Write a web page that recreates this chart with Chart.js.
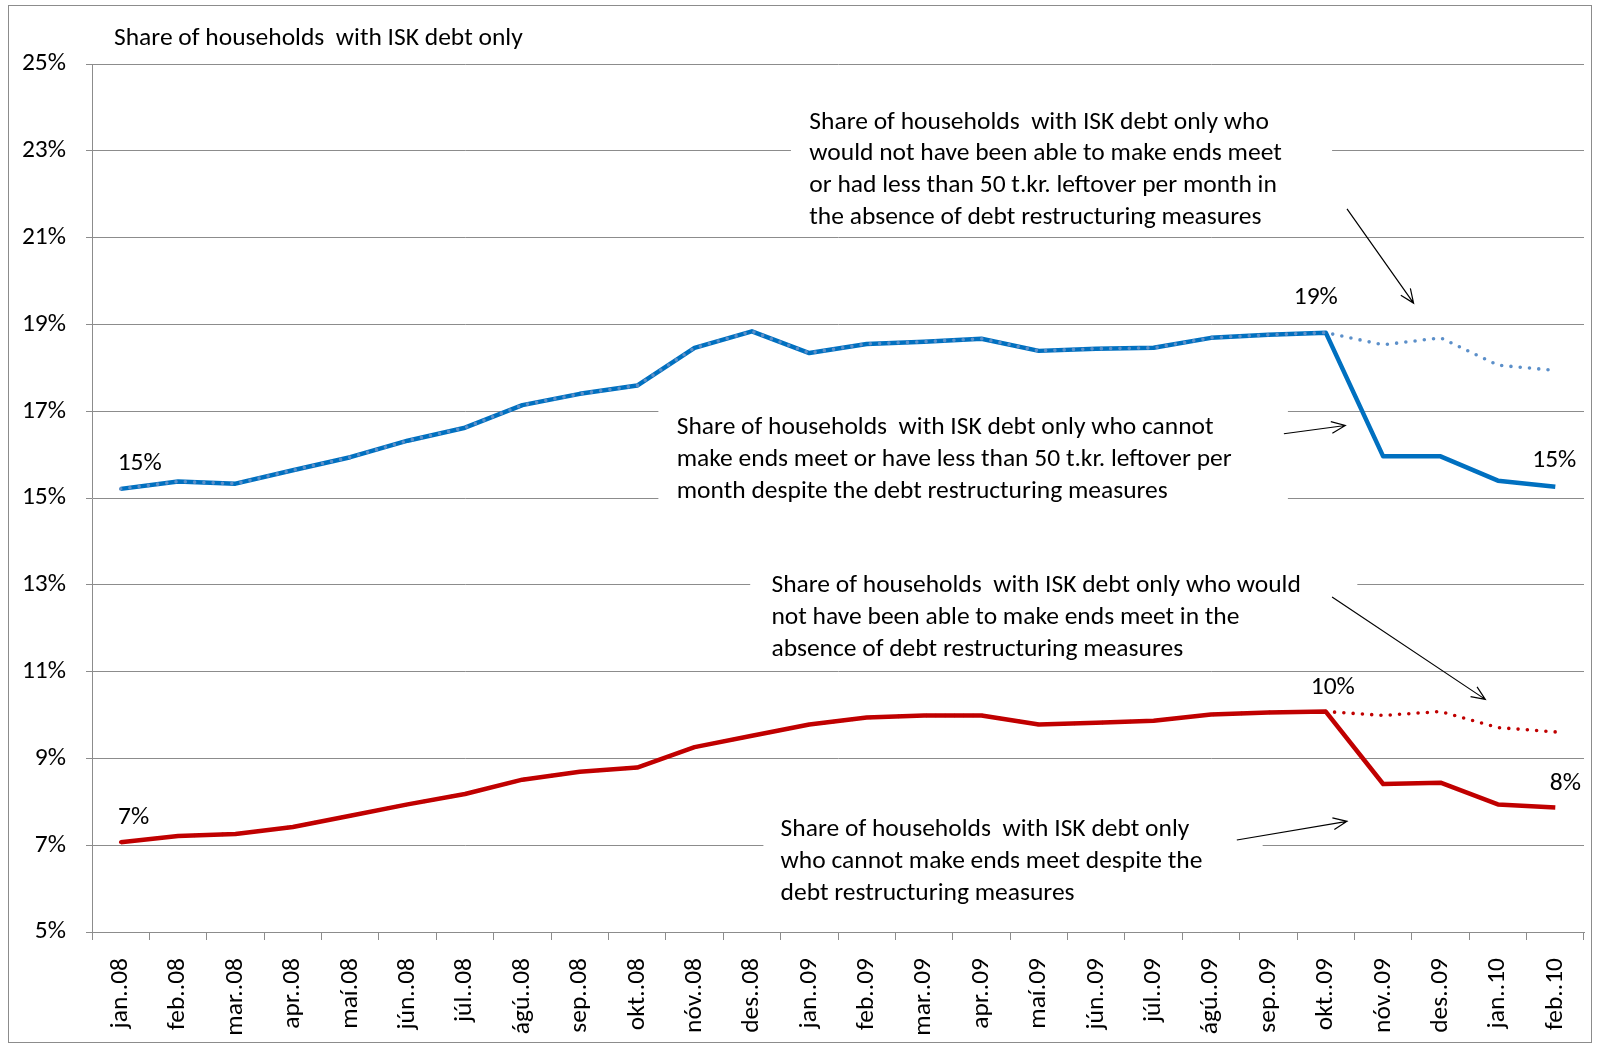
<!DOCTYPE html>
<html lang="en">
<head>
  <meta charset="UTF-8">
  <title>Share of households with ISK debt only</title>
  <script src="https://cdn.jsdelivr.net/npm/chart.js"></script>
  <style>
    body { margin: 0; background: #fff; }
    .chart-container { width: 1600px; height: 1047px; position: relative; }
  </style>
</head>
<body>
  <div class="chart-container"><canvas id="chart"></canvas></div>
  <script>
    const FONT = 'Carlito, Calibri, Lato, sans-serif';
    const FS = 25.5;

    const months = ['jan..08', 'feb..08', 'mar..08', 'apr..08', 'maí.08', 'jún..08', 'júl..08', 'ágú..08', 'sep..08',
      'okt..08', 'nóv..08', 'des..08', 'jan..09', 'feb..09', 'mar..09', 'apr..09', 'maí.09', 'jún..09', 'júl..09',
      'ágú..09', 'sep..09', 'okt..09', 'nóv..09', 'des..09', 'jan..10', 'feb..10'];

    // 50 t.kr. leftover measure
    const blueActual = [15.21, 15.38, 15.33, 15.64, 15.94, 16.32, 16.62, 17.14, 17.40, 17.59, 18.46, 18.84, 18.34,
      18.55, 18.60, 18.67, 18.39, 18.44, 18.46, 18.69, 18.76, 18.81, 15.96, 15.96, 15.40, 15.26];
    const blueNoMeasures = [15.21, 15.38, 15.33, 15.64, 15.94, 16.32, 16.62, 17.14, 17.40, 17.59, 18.46, 18.84, 18.34,
      18.55, 18.60, 18.67, 18.39, 18.44, 18.46, 18.69, 18.76, 18.81, 18.53, 18.69, 18.06, 17.94];

    // cannot make ends meet
    const redActual = [7.07, 7.21, 7.26, 7.42, 7.68, 7.94, 8.18, 8.51, 8.69, 8.79, 9.26, 9.52, 9.78, 9.94, 9.99,
      9.99, 9.78, 9.82, 9.87, 10.01, 10.06, 10.08, 8.41, 8.44, 7.94, 7.87];
    const redNoMeasures = [7.07, 7.21, 7.26, 7.42, 7.68, 7.94, 8.18, 8.51, 8.69, 8.79, 9.26, 9.52, 9.78, 9.94, 9.99,
      9.99, 9.78, 9.82, 9.87, 10.01, 10.06, 10.08, 9.99, 10.08, 9.71, 9.61];

    const yTicks = [5, 7, 9, 11, 13, 15, 17, 19, 21, 23, 25];

    // which points get a value label: [dataset index, point index, dx, dy]
    const pointLabels = [[0, 0, 19, -25], [0, 21, -10, -35], [0, 25, -1, -26],
      [2, 0, 13, -25], [2, 21, 7, -24], [2, 25, 10, -24]];

    // text boxes, in category index / value units
    const notes = [
      { lines: ['Share of households  with ISK debt only who', 'would not have been able to make ends meet',
          'or had less than 50 t.kr. leftover per month in', 'the absence of debt restructuring measures'],
        x: 12.0, y: 23.66, box: [11.68, 23.85, 21.11, 21.2], arrow: [21.37, 21.66, 22.53, 19.49] },
      { lines: ['Share of households  with ISK debt only who cannot', 'make ends meet or have less than 50 t.kr. leftover per',
          'month despite the debt restructuring measures'],
        x: 9.69, y: 16.62, box: [9.37, 17.3, 20.34, 14.8], arrow: [20.27, 16.48, 21.34, 16.67] },
      { lines: ['Share of households  with ISK debt only who would', 'not have been able to make ends meet in the',
          'absence of debt restructuring measures'],
        x: 11.34, y: 12.98, box: [10.97, 13.4, 21.55, 11.2], arrow: [21.11, 12.72, 23.78, 10.36] },
      { lines: ['Share of households  with ISK debt only', 'who cannot make ends meet despite the',
          'debt restructuring measures'],
        x: 11.5, y: 7.35, box: [11.2, 7.8, 19.9, 5.5], arrow: [19.45, 7.12, 21.37, 7.55] }
    ];

    const frame = {
      id: 'frame',
      beforeDraw(chart) {
        const ctx = chart.ctx;
        ctx.save();
        ctx.fillStyle = '#fff';
        ctx.fillRect(0, 0, chart.width, chart.height);
        ctx.strokeStyle = '#8c8c8c';
        ctx.lineWidth = 1;
        ctx.strokeRect(8.5, 5.5, 1583, 1037);
        ctx.fillStyle = '#000';
        ctx.font = FS + 'px ' + FONT;
        ctx.textBaseline = 'middle';
        ctx.fillText('Share of households  with ISK debt only', 114, 39);
        ctx.restore();
      }
    };

    function arrow(ctx, x1, y1, x2, y2) {
      const a = Math.atan2(y2 - y1, x2 - x1);
      const h = 15;
      ctx.beginPath();
      ctx.moveTo(x1, y1);
      ctx.lineTo(x2, y2);
      ctx.moveTo(x2 - h * Math.cos(a - 0.4), y2 - h * Math.sin(a - 0.4));
      ctx.lineTo(x2, y2);
      ctx.lineTo(x2 - h * Math.cos(a + 0.4), y2 - h * Math.sin(a + 0.4));
      ctx.stroke();
    }

    const notesPlugin = {
      id: 'notes',
      beforeDatasetsDraw(chart) {
        const ctx = chart.ctx;
        const xs = chart.scales.x, ys = chart.scales.y;
        const px = v => xs.getPixelForValue(v);
        const py = v => ys.getPixelForValue(v);
        ctx.save();
        notes.forEach(n => {
          ctx.fillStyle = '#fff';
          ctx.fillRect(px(n.box[0]), py(n.box[1]), px(n.box[2]) - px(n.box[0]), py(n.box[3]) - py(n.box[1]));
          ctx.fillStyle = '#000';
          ctx.font = FS + 'px ' + FONT;
          ctx.textBaseline = 'middle';
          n.lines.forEach((t, i) => ctx.fillText(t, px(n.x), py(n.y) + i * 31.8));
          ctx.strokeStyle = '#000';
          ctx.lineWidth = 1.2;
          arrow(ctx, px(n.arrow[0]), py(n.arrow[1]), px(n.arrow[2]), py(n.arrow[3]));
        });
        ctx.restore();
      },
      afterDatasetsDraw(chart) {
        const ctx = chart.ctx;
        ctx.save();
        ctx.fillStyle = '#000';
        ctx.font = FS + 'px ' + FONT;
        ctx.textAlign = 'center';
        ctx.textBaseline = 'middle';
        pointLabels.forEach(([d, i, dx, dy]) => {
          const pt = chart.getDatasetMeta(d).data[i];
          const v = chart.data.datasets[d].data[i];
          ctx.fillText(Math.round(v) + '%', pt.x + dx, pt.y + dy);
        });
        ctx.restore();
      }
    };

    new Chart(document.getElementById('chart'), {
      type: 'line',
      data: {
        labels: months,
        datasets: [
          { data: blueActual, borderColor: '#0070C0', borderWidth: 4.5, order: 4 },
          { data: blueNoMeasures, borderColor: '#5b8fc9', borderWidth: 3.6, borderDash: [0, 9.3], borderCapStyle: 'round', order: 3 },
          { data: redActual, borderColor: '#C00000', borderWidth: 4.5, order: 2 },
          { data: redNoMeasures, borderColor: '#C00000', borderWidth: 3.6, borderDash: [0, 9.3], borderCapStyle: 'round', order: 1 }
        ]
      },
      options: {
        responsive: true,
        maintainAspectRatio: false,
        animation: false,
        events: [],
        elements: { point: { radius: 0 }, line: { tension: 0, borderJoinStyle: 'round' } },
        layout: { padding: { top: 64, right: 16, left: 0, bottom: 0 } },
        plugins: { legend: { display: false }, tooltip: { enabled: false } },
        scales: {
          x: {
            offset: true,
            grid: { drawOnChartArea: false, tickLength: 8, color: '#8c8c8c', offset: true },
            border: { color: '#8c8c8c', width: 1 },
            ticks: { minRotation: 90, maxRotation: 90, autoSkip: false, padding: 18, color: '#000', font: { family: FONT, size: FS } },
            afterFit(scale) {
              scale.height = 115;
              scale.paddingLeft = 0;
              scale.paddingRight = 0;
            }
          },
          y: {
            min: 5,
            max: 25,
            afterBuildTicks(scale) { scale.ticks = yTicks.map(v => ({ value: v })); },
            grid: { color: '#8c8c8c', tickLength: 6 },
            border: { color: '#8c8c8c', width: 1 },
            ticks: { padding: 20, color: '#000', font: { family: FONT, size: FS }, callback: v => v + '%' },
            afterFit(scale) { scale.width = 92; }
          }
        }
      },
      plugins: [frame, notesPlugin]
    });
  </script>
</body>
</html>
